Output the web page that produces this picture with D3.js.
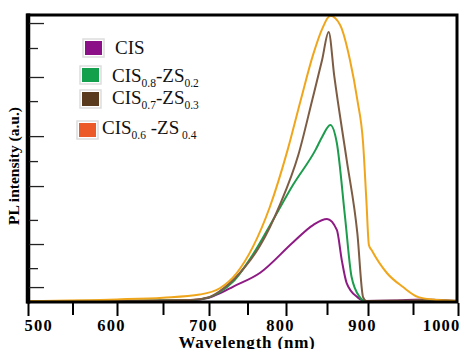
<!DOCTYPE html>
<html>
<head>
<meta charset="utf-8">
<script src="https://cdn.jsdelivr.net/npm/d3@7"></script>
<style>
  body { margin: 0; background: #fff; }
  svg { display: block; }
</style>
</head>
<body>
<div id="chart"></div>
<script>
// x tick values (nm)
var xMajor = [500, 600, 700, 800, 900, 1000];
var xMinor = [550, 650, 750, 850, 950];
// y ticks (no labels, arbitrary units)
var yMajor = [5.2, 20.2, 40.4, 57.8, 78.4, 97.2];
var yMinor = [11.8, 28.6, 49.1, 70.0, 88.5];

// spectra: [wavelength, intensity]
var cis = [[500,0.35],[600,0.35],[680,0.6],[700,1.5],[714,3.0],[731,5.3],[766,10.1],[809,20.9],[833,26.8],[850,28.9],
  [862,25.1],[868,14.6],[874,6.6],[887,1.7],[896,0.35],[930,0.5],[960,0.9],[985,0.5],[1000,0.3]];
var cis08 = [[500,0.35],[600,0.4],[680,0.6],[700,1.6],[714,3.4],[731,7.0],[757,16.5],[783,28.5],[809,41.0],
  [836,53.0],[844,57.5],[854,61.7],[862,55.4],[872,29.6],[880,8.7],[890,1.7],[896,0.35],[1000,0.3]];
var cis07 = [[500,0.35],[600,0.4],[680,0.7],[700,1.7],[714,3.8],[740,10.1],[766,19.5],[792,33.8],[815,51.2],
  [832,70.4],[844,84.3],[852,94.1],[859,78.4],[874,49.5],[887,24.0],[894,1.7],[898,0.35],[940,0.5],[970,0.8],[1000,0.4]];
var cis06 = [[500,0.35],[600,0.9],[650,1.5],[690,2.6],[714,4.8],[736,10.1],[757,19.2],[779,33.1],
  [802,53.0],[818,70.4],[833,86.1],[844,95.1],[854,99.7],[866,96.5],[878,84.3],[887,70.4],[894,55.4],
  [898,35.5],[901,19.9],[904,18.1],[921,10.1],[939,5.2],[956,1.7],[977,0.7],[1000,0.35]];

var seriesNames = ["CIS", "CIS0.8-ZS0.2", "CIS0.7-ZS0.3", "CIS0.6-ZS0.4"];
var lineColors = ["#8e1a84", "#1c9c4c", "#7d5c44", "#f0a61c"];
var swatchColors = ["#8b0f86", "#13a04c", "#5a3a1c", "#ec5a2a"];

var width = 460, height = 349;
var svg = d3.select("#chart").append("svg")
  .attr("width", width).attr("height", height);

var mLeft = 28, mRight = 457, mTop = 15, mBottom = 302;

// the source picture is a bit stretched, so the axis is piecewise
var x = d3.scaleLinear()
  .domain(xMajor)
  .range([28, 117, 209, 286, 368, 458]);
var y = d3.scaleLinear().domain([0, 100]).range([mBottom, mTop]);

var line = d3.line()
  .x(function(d) { return x(d[0]); })
  .y(function(d) { return y(d[1]); })
  .curve(d3.curveMonotoneX);

var all = [cis, cis08, cis07, cis06];
svg.append("g").selectAll("path")
  .data(all)
  .enter()
  .append("path")
  .attr("d", line)
  .attr("fill", "none")
  .attr("stroke", function(d, i) { return lineColors[i]; })
  .attr("stroke-width", 2);

// frame
svg.append("rect")
  .attr("x", mLeft).attr("y", mTop)
  .attr("width", mRight - mLeft).attr("height", mBottom - mTop)
  .attr("fill", "none").attr("stroke", "#000").attr("stroke-width", 3);
svg.append("line")
  .attr("x1", mLeft).attr("x2", mLeft).attr("y1", mTop - 1.5).attr("y2", mBottom + 1.5)
  .attr("stroke", "#000").attr("stroke-width", 4.5);

// y ticks, inward
var yAxisMaj = d3.axisRight(y).tickValues(yMajor).tickSize(15).tickFormat("");
var yAxisMin = d3.axisRight(y).tickValues(yMinor).tickSize(9).tickFormat("");
[yAxisMaj, yAxisMin].forEach(function(ax) {
  var g = svg.append("g").attr("transform", "translate(" + (mLeft + 1) + ",0)").call(ax);
  g.select(".domain").remove();
  g.selectAll("line").attr("stroke", "#222").attr("stroke-width", 1.3);
});

// x ticks, outward
var xAxisMin = d3.axisBottom(x).tickValues(xMinor).tickSize(12).tickFormat("");
var gMin = svg.append("g").attr("transform", "translate(0," + (mBottom + 1) + ")").call(xAxisMin);
gMin.select(".domain").remove();
gMin.selectAll("line").attr("stroke", "#000").attr("stroke-width", 2);

var xAxisMaj = d3.axisBottom(x).tickValues(xMajor).tickSize(13).tickPadding(3)
  .tickFormat(d3.format("d"));
var gMaj = svg.append("g").attr("transform", "translate(0," + (mBottom + 1) + ")").call(xAxisMaj);
gMaj.select(".domain").remove();
gMaj.selectAll("line").attr("stroke", "#000").attr("stroke-width", 2);
gMaj.selectAll("text")
  .attr("font-family", "'Liberation Serif', 'Times New Roman', serif")
  .attr("font-size", 16.5)
  .attr("font-weight", "bold")
  .attr("letter-spacing", 1.2)
  .attr("fill", "#000")
  .attr("text-anchor", function(d, i) { return i === 0 ? "start" : (i === xMajor.length - 1 ? "end" : "middle"); })
  .attr("dx", function(d, i) { return i === 0 ? -4 : (i === xMajor.length - 1 ? 2 : -6); });

// axis titles
svg.append("text")
  .attr("x", 247).attr("y", 348)
  .attr("text-anchor", "middle")
  .attr("font-family", "'Liberation Serif', serif")
  .attr("font-size", 17).attr("font-weight", "bold")
  .attr("letter-spacing", 0.8)
  .text("Wavelength (nm)");

svg.append("text")
  .attr("transform", "translate(19,166) rotate(-90)")
  .attr("text-anchor", "middle")
  .attr("font-family", "'Liberation Serif', serif")
  .attr("font-size", 15.5).attr("font-weight", "bold")
  .text("PL intensity (a.u.)");

// legend
var legendRows = [
  { sx: 85, sy: 41, tx: 115, ty: 54, parts: [["CIS", 0]] },
  { sx: 82, sy: 68, tx: 112, ty: 82, parts: [["CIS", 0], ["0.8", 1], ["-ZS", 0], ["0.2", 1]] },
  { sx: 82, sy: 92, tx: 112, ty: 104, parts: [["CIS", 0], ["0.7", 1], ["-ZS", 0], ["0.3", 1]] },
  { sx: 79, sy: 123, tx: 102, ty: 134, parts: [["CIS", 0], ["0.6", 1], [" -ZS", 0], [" 0.4", 1]] }
];

var leg = svg.append("g").selectAll("g")
  .data(legendRows)
  .enter()
  .append("g");

leg.append("rect")
  .attr("x", function(d) { return d.sx - 2; })
  .attr("y", function(d) { return d.sy - 2; })
  .attr("width", 21).attr("height", 18)
  .attr("fill", "#fff")
  .attr("stroke", "#ddd").attr("stroke-width", 1.5);
leg.append("rect")
  .attr("x", function(d) { return d.sx; })
  .attr("y", function(d) { return d.sy; })
  .attr("width", 17).attr("height", 14)
  .attr("fill", function(d, i) { return swatchColors[i]; });

leg.append("text")
  .attr("x", function(d) { return d.tx; })
  .attr("y", function(d) { return d.ty; })
  .attr("font-family", "'Liberation Serif', serif")
  .attr("font-size", 19)
  .attr("fill", "#111")
  .each(function(d) {
    var t = d3.select(this);
    var sub = false;
    d.parts.forEach(function(p) {
      var ts = t.append("tspan").text(p[0]);
      if (p[1] && !sub) { ts.attr("dy", 5).attr("font-size", 11.5); sub = true; }
      else if (p[1]) { ts.attr("dy", 0).attr("font-size", 11.5); }
      else if (sub) { ts.attr("dy", -5); sub = false; }
    });
  });
</script>
</body>
</html>
